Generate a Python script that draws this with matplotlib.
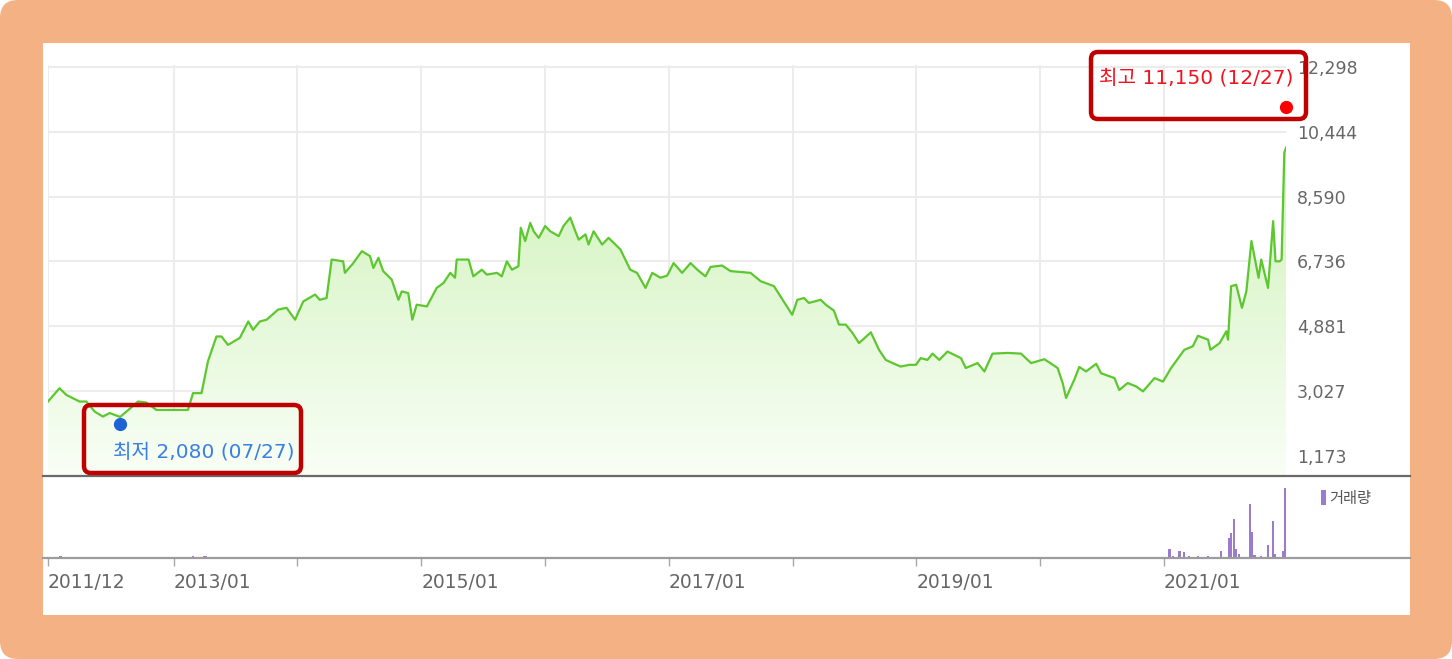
import matplotlib
matplotlib.use('Agg')
import matplotlib.pyplot as plt
import matplotlib.dates as mdates
from matplotlib.patches import FancyBboxPatch, Rectangle
from matplotlib.transforms import IdentityTransform
from matplotlib.lines import Line2D
import numpy as np
import pandas as pd

# price line
price_dates = [
    '2011-12-27', '2012-01-30', '2012-02-19', '2012-03-29', '2012-04-18', '2012-05-13',
    '2012-06-06', '2012-06-26', '2012-07-27', '2012-08-14', '2012-09-18', '2012-10-12',
    '2012-11-11', '2012-12-31', '2013-02-12', '2013-02-27', '2013-03-24', '2013-04-12',
    '2013-05-07', '2013-05-22', '2013-06-10', '2013-07-15', '2013-08-09', '2013-08-23',
    '2013-09-12', '2013-10-02', '2013-11-05', '2013-11-30', '2013-12-25', '2014-01-18',
    '2014-02-22', '2014-03-08', '2014-03-28', '2014-04-12', '2014-05-16', '2014-05-21',
    '2014-06-15', '2014-07-10', '2014-08-03', '2014-08-13', '2014-08-28', '2014-09-11',
    '2014-10-06', '2014-10-26', '2014-11-05', '2014-11-24', '2014-12-06', '2014-12-19',
    '2015-01-18', '2015-02-16', '2015-03-08', '2015-03-28', '2015-04-11', '2015-04-16',
    '2015-05-21', '2015-06-04', '2015-06-29', '2015-07-14', '2015-08-13', '2015-08-27',
    '2015-09-11', '2015-09-26', '2015-10-15', '2015-10-22', '2015-11-04', '2015-11-19',
    '2015-11-29', '2015-12-14', '2016-01-02', '2016-01-17', '2016-02-11', '2016-02-25',
    '2016-03-16', '2016-03-31', '2016-04-10', '2016-04-30', '2016-05-09', '2016-05-24',
    '2016-06-18', '2016-07-07', '2016-08-11', '2016-09-09', '2016-09-29', '2016-10-24',
    '2016-11-13', '2016-12-07', '2016-12-27', '2017-01-15', '2017-02-09', '2017-03-06',
    '2017-03-26', '2017-04-19', '2017-05-04', '2017-06-07', '2017-07-02', '2017-08-30',
    '2017-09-29', '2017-11-07', '2017-12-06', '2017-12-31', '2018-01-15', '2018-02-04',
    '2018-02-18', '2018-03-25', '2018-04-09', '2018-05-03', '2018-05-18', '2018-06-07',
    '2018-06-27', '2018-07-16', '2018-08-20', '2018-09-13', '2018-10-03', '2018-10-23',
    '2018-11-16', '2018-12-11', '2018-12-31', '2019-01-14', '2019-02-03', '2019-02-18',
    '2019-03-10', '2019-04-03', '2019-05-13', '2019-05-27', '2019-07-01', '2019-07-21',
    '2019-08-14', '2019-09-28', '2019-11-06', '2019-12-06', '2020-01-14', '2020-02-22',
    '2020-03-08', '2020-03-18', '2020-04-11', '2020-04-26', '2020-05-16', '2020-06-15',
    '2020-06-29', '2020-08-08', '2020-08-22', '2020-09-16', '2020-10-11', '2020-10-31',
    '2020-12-04', '2020-12-29', '2021-01-22', '2021-02-16', '2021-03-02', '2021-03-27',
    '2021-04-11', '2021-05-11', '2021-05-18', '2021-06-14', '2021-07-04', '2021-07-09',
    '2021-07-18', '2021-08-02', '2021-08-19', '2021-09-01', '2021-09-16', '2021-10-07',
    '2021-10-15', '2021-11-04', '2021-11-19', '2021-11-26', '2021-12-09', '2021-12-14',
    '2021-12-22', '2021-12-27',
]
price_vals = [
    2730, 3110, 2920, 2730, 2730, 2440,
    2300, 2400, 2290, 2440, 2730, 2700,
    2490, 2490, 2490, 2970, 2970, 3880,
    4590, 4590, 4350, 4550, 5020, 4780,
    5020, 5070, 5360, 5410, 5070, 5590,
    5790, 5640, 5690, 6790, 6740, 6410,
    6690, 7030, 6890, 6550, 6840, 6460,
    6220, 5640, 5880, 5830, 5070, 5500,
    5450, 5980, 6120, 6410, 6270, 6790,
    6790, 6310, 6500, 6360, 6410, 6310,
    6740, 6500, 6600, 7700, 7320, 7840,
    7600, 7410, 7750, 7600, 7460, 7750,
    7990, 7600, 7360, 7510, 7220, 7600,
    7220, 7410, 7080, 6500, 6410, 5980,
    6410, 6270, 6330, 6690, 6410, 6690,
    6500, 6310, 6580, 6620, 6460, 6410,
    6170, 6030, 5590, 5210, 5640, 5690,
    5550, 5640, 5500, 5330, 4930, 4930,
    4690, 4400, 4710, 4210, 3920, 3830,
    3730, 3780, 3780, 3970, 3920, 4100,
    3920, 4160, 3970, 3690, 3830, 3590,
    4100, 4120, 4100, 3830, 3940, 3690,
    3260, 2830, 3350, 3720, 3590, 3810,
    3540, 3400, 3060, 3260, 3160, 3020,
    3400, 3300, 3690, 4020, 4210, 4310,
    4610, 4500, 4210, 4400, 4740, 4500,
    6030, 6070, 5410, 5880, 7320, 6270,
    6790, 5980, 7890, 6740, 6740, 6790,
    9850, 9990,
]

# trading volume spikes (relative units)
vol_dates = [
    '2012-02-02', '2013-02-26', '2013-04-01', '2013-04-05', '2018-05-20', '2018-06-24',
    '2019-07-08', '2020-04-08', '2020-09-11', '2021-01-17', '2021-01-28', '2021-02-16',
    '2021-03-02', '2021-03-16', '2021-04-11', '2021-05-11', '2021-06-19', '2021-07-13',
    '2021-07-18', '2021-07-26', '2021-08-02', '2021-08-11', '2021-09-11', '2021-09-16',
    '2021-09-25', '2021-10-15', '2021-11-04', '2021-11-19', '2021-11-24', '2021-12-18',
    '2021-12-23', '2021-12-27',
]
vol_vals = [
    15, 15, 20, 20, 12, 12,
    12, 12, 12, 90, 20, 70,
    55, 15, 15, 15, 70, 200,
    250, 390, 90, 40, 540, 255,
    25, 15, 130, 370, 40, 70,
    700, 130,
]

ytick_vals = [1173, 3027, 4881, 6736, 8590, 10444, 12298]
xtick_dates = ['2011-12-27', '2013-01-01', '2014-01-01', '2015-01-01', '2016-01-01',
               '2017-01-01', '2018-01-01', '2019-01-01', '2020-01-01', '2021-01-01']
xtick_labels = ['2011/12', '2013/01', '', '2015/01', '', '2017/01', '', '2019/01', '', '2021/01']

hi_date, hi_val, hi_text = '2021-12-27', 11150, '최고 11,150 (12/27)'
lo_date, lo_val, lo_text = '2012-07-27', 2080, '최저 2,080 (07/27)'

W, H = 1452, 659
fam = ['DejaVu Sans', 'Noto Sans CJK KR']

def px_rect(x0, y0, x1, y1):
    # image coords (top-left origin) -> display pixels
    return (x0, H - y1), x1 - x0, y1 - y0

fig = plt.figure(figsize=(W / 100, H / 100), dpi=100)
fig.patch.set_facecolor('white')

# orange frame and white panel
xy, w, h = px_rect(0, 0, W, H)
fig.add_artist(FancyBboxPatch(xy, w, h, boxstyle='round,pad=0,rounding_size=18',
                              transform=IdentityTransform(), facecolor='#F4B183',
                              edgecolor='none', zorder=-10))
xy, w, h = px_rect(43, 43, 1410, 615)
fig.add_artist(Rectangle(xy, w, h, transform=IdentityTransform(), facecolor='white',
                         edgecolor='none', zorder=-9))

pd_dates = pd.to_datetime(price_dates)
xnum = mdates.date2num(pd_dates)
x0 = mdates.date2num(pd.Timestamp(price_dates[0]))
x1 = mdates.date2num(pd.Timestamp(price_dates[-1]))
ylo, yhi = 600, 12355

ax = fig.add_axes([48 / W, 1 - 476 / H, (1286 - 48) / W, (476 - 65) / H])
ax.set_facecolor('white')

# gradient fill under the line
poly = ax.fill_between(xnum, price_vals, ylo, facecolor='none', edgecolor='none')
top_c = np.array([198, 240, 172]) / 255
bot_c = np.array([249, 254, 246]) / 255
t = np.linspace(0, 1, 256).reshape(-1, 1)
img = np.zeros((256, 1, 4))
img[:, :, :3] = top_c * (1 - t[:, :, None]) + bot_c * t[:, :, None]
img[:, :, 3] = 1
im = ax.imshow(img, extent=[x0, x1, ylo, yhi], aspect='auto', origin='upper', zorder=1)
im.set_clip_path(poly.get_paths()[0], transform=ax.transData)

ax.plot(xnum, price_vals, color='#5CC72E', lw=1.6, zorder=3)

ax.set_xlim(x0, x1)
ax.set_ylim(ylo, yhi)
ax.set_yticks(ytick_vals)
ax.set_yticklabels([f'{v:,}' for v in ytick_vals])
ax.yaxis.tick_right()
ax.tick_params(axis='y', length=0, pad=8, labelsize=12.5, labelcolor='#666666')
ax.set_xticks(mdates.date2num(pd.to_datetime(xtick_dates)))
ax.tick_params(axis='x', length=0, labelbottom=False)
ax.grid(True, color='#ECECEC', lw=1.5, zorder=0)
ax.set_axisbelow(True)
for s in ax.spines.values():
    s.set_visible(False)

# high / low markers
hx = mdates.date2num(pd.Timestamp(hi_date))
lx = mdates.date2num(pd.Timestamp(lo_date))
ax.plot(hx, hi_val, 'o', color='#FF0000', ms=8.5, clip_on=False, zorder=5)
ax.plot(lx, lo_val, 'o', color='#1E63D6', ms=8.5, clip_on=False, zorder=5)
ax.annotate(hi_text, xy=(hx, hi_val), xytext=(7, 29), textcoords='offset pixels',
            ha='right', va='center', color='#F0141E', fontsize=14.5, family=fam,
            annotation_clip=False, zorder=6)
ax.annotate(lo_text, xy=(lx, lo_val), xytext=(-7, -28), textcoords='offset pixels',
            ha='left', va='center', color='#3A80E0', fontsize=14.5, family=fam,
            annotation_clip=False, zorder=6)

# volume pane
vax = fig.add_axes([48 / W, 1 - 558 / H, (1286 - 48) / W, (558 - 478) / H], sharex=ax)
vax.set_facecolor('none')
vax.bar(mdates.date2num(pd.to_datetime(vol_dates)), vol_vals, width=6.5, color='#9A7BCF',
        edgecolor='none')
vax.set_ylim(0, max(vol_vals) * 1.14)
vax.set_yticks([])
for s in vax.spines.values():
    s.set_visible(False)
vax.set_xticks(mdates.date2num(pd.to_datetime(xtick_dates)))
vax.set_xticklabels(xtick_labels)
vax.tick_params(axis='x', direction='out', length=6, width=1, color='#A8A8A8', pad=5,
                labelsize=13.5, labelcolor='#666666', labelbottom=True)
for lab in vax.get_xticklabels():
    lab.set_ha('left')
vax.set_xlim(x0, x1)

# separator lines across the panel
fig.add_artist(Line2D([43, 1410], [H - 476, H - 476], transform=IdentityTransform(),
                      color='#6A6A6A', lw=1.6, zorder=4))
fig.add_artist(Line2D([43, 1410], [H - 558, H - 558], transform=IdentityTransform(),
                      color='#9C9C9C', lw=1.6, zorder=4))

# volume legend
xy, w, h = px_rect(1321, 490, 1326, 505)
fig.add_artist(Rectangle(xy, w, h, transform=IdentityTransform(), facecolor='#9A7BCF',
                         edgecolor='none', zorder=5))
fig.text(1329 / W, 1 - 498 / H, '거래량', ha='left', va='center', fontsize=11,
         color='#555555', family=['Noto Sans CJK KR', 'DejaVu Sans'])

# red highlight boxes
for (bx0, by0, bx1, by1) in [(1091, 52, 1306, 119), (84, 405, 301, 473)]:
    xy, w, h = px_rect(bx0, by0, bx1, by1)
    fig.add_artist(FancyBboxPatch(xy, w, h, boxstyle='round,pad=0,rounding_size=7',
                                  transform=IdentityTransform(), facecolor='none',
                                  edgecolor='#C00000', lw=3.2, zorder=10))

fig.savefig('out.png', dpi=100)
